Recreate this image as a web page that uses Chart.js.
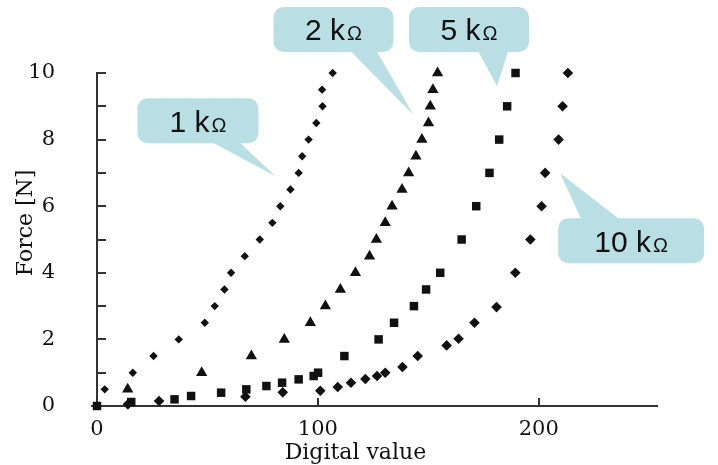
<!DOCTYPE html>
<html><head><meta charset="utf-8">
<script src="https://cdn.jsdelivr.net/npm/chart.js@4/dist/chart.umd.min.js"></script>
<style>html,body{margin:0;padding:0;background:#fff;}canvas{display:block;}</style>
</head><body>
<canvas id="c" width="718" height="465"></canvas>
<script>
// ---------- data ----------
const seriesNames = ['1 kΩ', '2 kΩ', '5 kΩ', '10 kΩ'];

const x1k = [3.5, 16.2, 25.6, 37.0, 48.8, 53.3, 57.7, 60.7, 66.9, 73.7, 79.4, 83.0, 87.6, 91.3, 92.9, 95.8, 99.3, 102.1, 101.9, 106.7];
const y1k = [0.5, 1, 1.5, 2, 2.5, 3, 3.5, 4, 4.5, 5, 5.5, 6, 6.5, 7, 7.5, 8, 8.5, 9, 9.5, 10];

const x2k = [13.9, 47.4, 69.9, 84.8, 96.6, 103.4, 110.2, 117.0, 123.4, 126.5, 130.5, 133.6, 138.1, 141.1, 144.4, 147.1, 150.1, 150.9, 152.1, 154.2];
const y2k = [0.5, 1, 1.5, 2, 2.5, 3, 3.5, 4, 4.5, 5, 5.5, 6, 6.5, 7, 7.5, 8, 8.5, 9, 9.5, 10];

const x5k = [0, 15.5, 35.1, 42.6, 56.2, 67.6, 76.7, 83.8, 91.3, 98.1, 100.1, 112.0, 127.5, 134.5, 143.5, 149.0, 155.4, 165.1, 171.7, 177.7, 182.1, 185.7, 189.5];
const y5k = [0, 0.12, 0.2, 0.3, 0.4, 0.5, 0.6, 0.7, 0.8, 0.9, 1.0, 1.5, 2, 2.5, 3, 3.5, 4, 5, 6, 7, 8, 9, 10];

const x10k = [14, 28.1, 67.2, 84.1, 101.1, 109.0, 115.0, 121.5, 126.8, 130.5, 138.3, 145.2, 158.3, 163.7, 170.9, 180.9, 189.4, 196.2, 201.3, 202.9, 209.0, 210.8, 213.2];
const y10k = [0.05, 0.15, 0.28, 0.41, 0.46, 0.57, 0.70, 0.81, 0.90, 1.0, 1.17, 1.5, 1.82, 2.02, 2.5, 2.97, 4.0, 5.0, 6.0, 7.0, 8.0, 9.0, 10.0];

const xTickLabels = [0, 100, 200];
const yTickLabels = [0, 2, 4, 6, 8, 10];
const xTitle = 'Digital value';
const yTitle = 'Force [N]';

// ---------- styling ----------
const ink = '#111';
const axisColor = '#333';
const calloutFill = 'rgb(185,223,228)';
const serif = '"DejaVu Serif", "Liberation Serif", serif';
const sans = '"Liberation Sans", Arial, sans-serif';

// callouts: tip in data units, box and tail base as pixel offsets from the tip
const callouts = [
  { num: '1 k', tip: [80.8, 6.9],  box: [-138, -78, -17, -33], base: [-67, -38], side: 'bottom' },
  { num: '2 k', tip: [143.3, 8.74], box: [-140, -108, -20, -63], base: [-65, -38], side: 'bottom' },
  { num: '5 k', tip: [181.1, 9.61], box: [-88, -79, 32, -34], base: [-20, 12], side: 'bottom' },
  { num: '10 k', tip: [209.7, 6.99], box: [-2, 45, 144, 90], base: [22, 62], side: 'top' }
];

const toPts = (xs, ys) => xs.map((v, i) => ({ x: v, y: ys[i] }));

function roundRectPath(ctx, x, y, w, h, r) {
  ctx.beginPath();
  ctx.moveTo(x + r, y);
  ctx.arcTo(x + w, y, x + w, y + h, r);
  ctx.arcTo(x + w, y + h, x, y + h, r);
  ctx.arcTo(x, y + h, x, y, r);
  ctx.arcTo(x, y, x + w, y, r);
  ctx.closePath();
}

const decor = {
  id: 'decor',
  beforeDatasetsDraw(chart) {
    const { ctx, chartArea: a, scales: { x, y } } = chart;
    ctx.save();
    // callouts
    callouts.forEach(c => {
      const tx = x.getPixelForValue(c.tip[0]);
      const ty = y.getPixelForValue(c.tip[1]);
      const L = tx + c.box[0], T = ty + c.box[1], R = tx + c.box[2], B = ty + c.box[3];
      ctx.fillStyle = calloutFill;
      roundRectPath(ctx, L, T, R - L, B - T, 10);
      ctx.fill();
      const ey = c.side === 'bottom' ? B - 3 : T + 3;
      ctx.beginPath();
      ctx.moveTo(tx + c.base[0], ey);
      ctx.lineTo(tx + c.base[1], ey);
      ctx.lineTo(tx, ty);
      ctx.closePath();
      ctx.fill();
      // label
      ctx.fillStyle = ink;
      ctx.textBaseline = 'alphabetic';
      ctx.textAlign = 'left';
      const f1 = '30px ' + sans, f2 = '20px ' + sans;
      ctx.font = f1; const w1 = ctx.measureText(c.num).width;
      ctx.font = f2; const w2 = ctx.measureText('Ω').width;
      const cx = (L + R) / 2, by = (T + B) / 2 + 11;
      const sx = cx - (w1 + w2 + 2) / 2;
      ctx.font = f1; ctx.fillText(c.num, sx, by);
      ctx.font = f2; ctx.fillText('Ω', sx + w1 + 2, by);
    });
    // axes
    ctx.strokeStyle = axisColor;
    ctx.lineWidth = 2;
    ctx.beginPath();
    ctx.moveTo(a.left, a.top - 1);
    ctx.lineTo(a.left, a.bottom);
    ctx.moveTo(a.left - 6, a.bottom);
    ctx.lineTo(a.right, a.bottom);
    y.ticks.forEach(t => {
      const py = Math.round(y.getPixelForValue(t.value));
      ctx.moveTo(a.left, py); ctx.lineTo(a.left + 9, py);
    });
    x.ticks.forEach(t => {
      if (t.value === 0) return;
      const px = Math.round(x.getPixelForValue(t.value));
      ctx.moveTo(px, a.bottom); ctx.lineTo(px, a.bottom - 8);
    });
    ctx.stroke();
    // axis titles
    ctx.fillStyle = ink;
    ctx.font = '22px ' + serif;
    ctx.textAlign = 'center';
    ctx.textBaseline = 'alphabetic';
    ctx.fillText(xTitle, x.getPixelForValue(117), 459);
    ctx.translate(32, y.getPixelForValue(5.5));
    ctx.rotate(-Math.PI / 2);
    ctx.fillText(yTitle, 0, 0);
    ctx.restore();
  }
};

const mk = (label, data, style, radius) => ({
  label, data, pointStyle: style, pointRadius: radius, clip: false,
  backgroundColor: ink, borderColor: ink, borderWidth: 0, showLine: false
});

new Chart(document.getElementById('c'), {
  type: 'scatter',
  data: {
    datasets: [
      mk(seriesNames[0], toPts(x1k, y1k), 'rectRot', 4.2),
      mk(seriesNames[1], toPts(x2k, y2k), 'triangle', 6.5),
      mk(seriesNames[2], toPts(x5k, y5k), 'rect', 6),
      mk(seriesNames[3], toPts(x10k, y10k), 'rectRot', 5.3)
    ]
  },
  options: {
    responsive: false,
    animation: false,
    events: [],
    layout: { padding: { top: 73, right: 60, left: 0, bottom: 0 } },
    plugins: { legend: { display: false }, tooltip: { enabled: false } },
    scales: {
      x: {
        type: 'linear', min: 0, max: 254,
        grid: { display: false }, border: { display: false },
        afterBuildTicks: s => { s.ticks = s.ticks.filter(t => xTickLabels.includes(t.value)); },
        afterFit: s => { s.height = 59; },
        ticks: { stepSize: 100, color: ink, padding: 3, font: { family: serif, size: 21 },
                 callback: v => xTickLabels.includes(v) ? String(v) : '' }
      },
      y: {
        type: 'linear', min: 0, max: 10,
        grid: { display: false }, border: { display: false },
        afterFit: s => { s.width = 97; },
        ticks: { stepSize: 1, color: ink, padding: 34, font: { family: serif, size: 21 },
                 callback: v => yTickLabels.includes(v) ? String(v) : '' }
      }
    }
  },
  plugins: [decor]
});
</script>
</body></html>
